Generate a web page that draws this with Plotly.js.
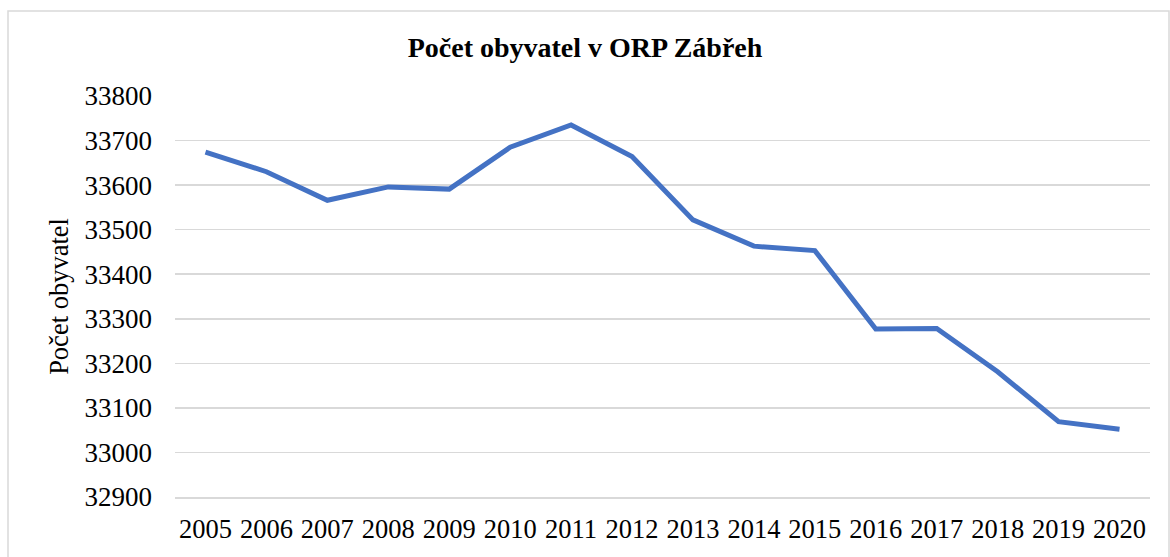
<!DOCTYPE html>
<html>
<head>
<meta charset="utf-8">
<script src="https://cdn.plot.ly/plotly-3.0.1.min.js"></script>
<style>html,body{margin:0;padding:0;background:#fff;}#chart{width:1170px;height:557px;}</style>
</head>
<body>
<div id="chart"></div>
<script>
const years = ["2005","2006","2007","2008","2009","2010","2011","2012","2013","2014","2015","2016","2017","2018","2019","2020"];
const population = [33674, 33630, 33566, 33596, 33591, 33685, 33735, 33664, 33522, 33463, 33453, 33277, 33278, 33181, 33069, 33052];
const chartTitle = "Počet obyvatel v ORP Zábřeh";
const yTitle = "Počet obyvatel";

const font = "'Liberation Serif', 'Times New Roman', serif";

Plotly.newPlot("chart", [{
  x: years,
  y: population,
  type: "scatter",
  mode: "lines",
  line: {color: "#4472C4", width: 5},
  hoverinfo: "x+y"
}], {
  width: 1170,
  height: 557,
  margin: {l: 175, r: 20, t: 96, b: 60},
  paper_bgcolor: "#ffffff",
  plot_bgcolor: "#ffffff",
  showlegend: false,
  title: {
    text: "<b>" + chartTitle + "</b>",
    font: {family: font, size: 28, color: "#000"},
    x: 0.5, xanchor: "center",
    y: 1 - 47/557, yanchor: "middle"
  },
  xaxis: {
    type: "category",
    range: [-0.5, 15.5],
    showgrid: false,
    showline: true,
    linecolor: "#d9d9d9",
    linewidth: 1.5,
    ticks: "",
    ticklabelstandoff: 8,
    tickfont: {family: font, size: 26.5, color: "#000"},
    fixedrange: true
  },
  yaxis: {
    range: [32900, 33800],
    dtick: 100,
    tick0: 32900,
    showgrid: true,
    gridcolor: "#d9d9d9",
    gridwidth: 1.5,
    zeroline: false,
    showline: false,
    ticks: "",
    ticklabelstandoff: 22,
    tickformat: "d",
    tickfont: {family: font, size: 27, color: "#000"},
    title: {text: yTitle, font: {family: font, size: 26.5, color: "#000"}, standoff: 8},
    fixedrange: true
  },
  shapes: [{
    type: "rect", xref: "paper", yref: "paper",
    x0: -167/975, x1: 1 + 19/975,
    y0: -62/401, y1: 1 + 85/401,
    line: {color: "#d9d9d9", width: 1.5},
    fillcolor: "rgba(0,0,0,0)",
    layer: "below"
  }]
}, {displayModeBar: false, staticPlot: true});
</script>
</body>
</html>
